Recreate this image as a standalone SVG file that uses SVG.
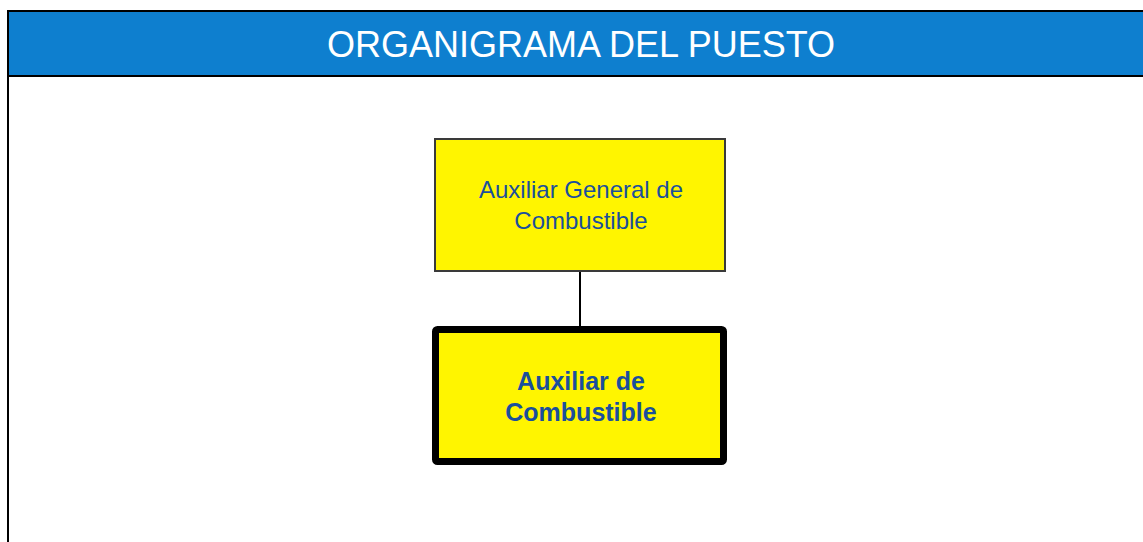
<svg xmlns="http://www.w3.org/2000/svg" width="1143" height="542" viewBox="0 0 1143 542">
<style>
.title{font-family:"Liberation Sans",Arial,sans-serif;font-size:36px;fill:#ffffff}
.t{font-family:"Liberation Sans",Arial,sans-serif;font-size:24px;fill:#1a4f9c}
.tb{font-family:"Liberation Sans",Arial,sans-serif;font-size:25px;font-weight:bold;fill:#1a4f9c}
</style>
<rect x="0" y="0" width="1143" height="542" fill="#ffffff"/>
<g id="header">
<rect x="8" y="12" width="1140" height="63" fill="#0e7fcf"/>
<line x1="7" y1="11" x2="1143" y2="11" stroke="#000" stroke-width="2"/>
<line x1="7" y1="76" x2="1143" y2="76" stroke="#000" stroke-width="2"/>
<line x1="8" y1="10" x2="8" y2="542" stroke="#000" stroke-width="2"/>
<text class="title" x="581" y="57" text-anchor="middle">ORGANIGRAMA DEL PUESTO</text>
</g>
<g id="connectors">
<line x1="580" y1="271" x2="580" y2="327" stroke="#000" stroke-width="2"/>
</g>
<g id="node-general">
<rect x="435" y="139" width="290" height="132" fill="#fff500" stroke="#3a3a3a" stroke-width="2"/>
<text class="t" x="581" y="198" text-anchor="middle">Auxiliar General de</text>
<text class="t" x="581" y="229" text-anchor="middle">Combustible</text>
</g>
<g id="node-auxiliar">
<rect x="435.5" y="329.5" width="288" height="132" rx="2" fill="#fff500" stroke="#000" stroke-width="7"/>
<text class="tb" x="581" y="390" text-anchor="middle">Auxiliar de</text>
<text class="tb" x="581" y="421" text-anchor="middle">Combustible</text>
</g>
</svg>
